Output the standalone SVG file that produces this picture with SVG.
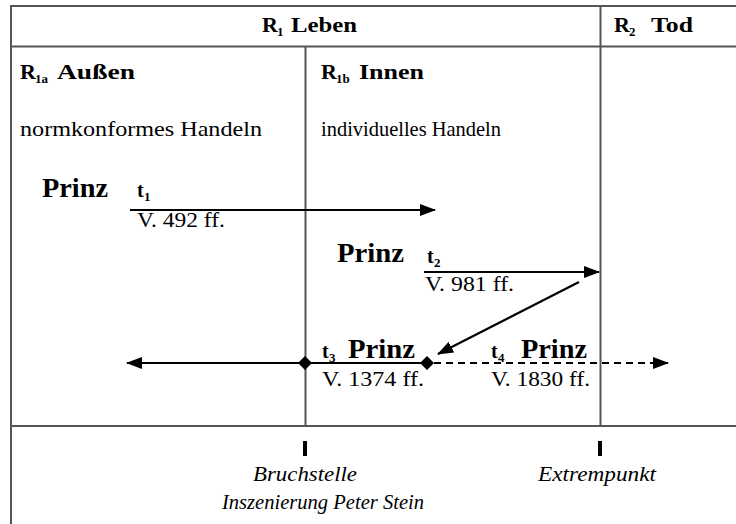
<svg xmlns="http://www.w3.org/2000/svg" width="736" height="524" viewBox="0 0 736 524" font-family="'Liberation Serif', 'Times New Roman', serif">
<defs>
<style>
.grid{stroke:#555;stroke-width:2;fill:none}
.b{font-weight:bold;fill:#000}
.r{fill:#000}
.i{font-style:italic;fill:#000}
.ln{stroke:#000;stroke-width:2.2;fill:none}
</style>
<marker id="ah" markerWidth="16" markerHeight="12" refX="15" refY="6" orient="auto" markerUnits="userSpaceOnUse">
<path d="M0,0 L16,6 L0,12 Z" fill="#000"/>
</marker>
<marker id="dm" markerWidth="14" markerHeight="14" refX="7" refY="7" markerUnits="userSpaceOnUse">
<path d="M7,0 L14,7 L7,14 L0,7 Z" fill="#000"/>
</marker>
</defs>
<rect width="736" height="524" fill="#fff"/>
<g id="grid">
<path class="grid" d="M11,524 V6 H736 M11,46.5 H736 M305.5,46.5 V426 M600.5,6 V426 M11,426 H736"/>
</g>
<g id="header-R1">
<text class="b" x="262" y="32" font-size="22">R</text>
<text class="b" x="277" y="36" font-size="13">1</text>
<text class="b" x="291" y="32" font-size="22" textLength="66" lengthAdjust="spacingAndGlyphs">Leben</text>
</g>
<g id="header-R2">
<text class="b" x="614" y="32" font-size="22">R</text>
<text class="b" x="629" y="36" font-size="13">2</text>
<text class="b" x="651" y="32" font-size="22" textLength="42" lengthAdjust="spacingAndGlyphs">Tod</text>
</g>
<g id="header-R1a">
<text class="b" x="20" y="79" font-size="22">R</text>
<text class="b" x="35" y="83" font-size="13">1a</text>
<text class="b" x="57" y="79" font-size="22" textLength="78" lengthAdjust="spacingAndGlyphs">Außen</text>
<text class="r" x="20" y="136" font-size="22" textLength="242" lengthAdjust="spacingAndGlyphs">normkonformes Handeln</text>
</g>
<g id="header-R1b">
<text class="b" x="321" y="79" font-size="22">R</text>
<text class="b" x="336" y="83" font-size="13">1b</text>
<text class="b" x="359" y="79" font-size="22" textLength="65" lengthAdjust="spacingAndGlyphs">Innen</text>
<text class="r" x="321" y="136" font-size="22" textLength="180" lengthAdjust="spacingAndGlyphs">individuelles Handeln</text>
</g>
<g id="t1">
<text class="b" x="42" y="197" font-size="27" textLength="66" lengthAdjust="spacingAndGlyphs">Prinz</text>
<text class="b" x="137" y="197" font-size="20">t</text>
<text class="b" x="144" y="201" font-size="13">1</text>
<text class="r" x="137" y="227" font-size="22" textLength="88" lengthAdjust="spacingAndGlyphs">V. 492 ff.</text>
</g>
<g id="t2">
<text class="b" x="337" y="262" font-size="27" textLength="67" lengthAdjust="spacingAndGlyphs">Prinz</text>
<text class="b" x="427" y="263" font-size="20">t</text>
<text class="b" x="434" y="267" font-size="13">2</text>
<text class="r" x="425" y="291" font-size="22" textLength="89" lengthAdjust="spacingAndGlyphs">V. 981 ff.</text>
</g>
<g id="t3">
<text class="b" x="322" y="358" font-size="20">t</text>
<text class="b" x="329" y="362" font-size="13">3</text>
<text class="b" x="348" y="358" font-size="27" textLength="67" lengthAdjust="spacingAndGlyphs">Prinz</text>
<text class="r" x="322" y="386" font-size="22" textLength="102" lengthAdjust="spacingAndGlyphs">V. 1374 ff.</text>
</g>
<g id="t4">
<text class="b" x="491" y="358" font-size="20">t</text>
<text class="b" x="498" y="362" font-size="13">4</text>
<text class="b" x="521" y="358" font-size="27" textLength="66" lengthAdjust="spacingAndGlyphs">Prinz</text>
<text class="r" x="491" y="386" font-size="22" textLength="99" lengthAdjust="spacingAndGlyphs">V. 1830 ff.</text>
</g>
<g id="bruchstelle">
<rect x="303" y="441" width="4" height="15" fill="#000"/>
<text class="i" x="253" y="481" font-size="22" textLength="104" lengthAdjust="spacingAndGlyphs">Bruchstelle</text>
<text class="i" x="222" y="509" font-size="22" textLength="202" lengthAdjust="spacingAndGlyphs">Inszenierung Peter Stein</text>
</g>
<g id="extrempunkt">
<rect x="598" y="441" width="4" height="15" fill="#000"/>
<text class="i" x="538" y="481" font-size="22" textLength="118" lengthAdjust="spacingAndGlyphs">Extrempunkt</text>
</g>
<g id="connectors">
<line class="ln" x1="130" y1="210" x2="435" y2="210" marker-end="url(#ah)"/>
<line class="ln" x1="424" y1="272" x2="599" y2="272" marker-end="url(#ah)"/>
<line class="ln" x1="579" y1="282" x2="438" y2="354" marker-end="url(#ah)"/>
<line class="ln" x1="305" y1="363" x2="127" y2="363" marker-end="url(#ah)"/>
<line class="ln" x1="305" y1="363" x2="427" y2="363" marker-start="url(#dm)" marker-end="url(#dm)"/>
<line class="ln" x1="434" y1="363" x2="668" y2="363" stroke-dasharray="7,5" marker-end="url(#ah)"/>
</g>
</svg>
